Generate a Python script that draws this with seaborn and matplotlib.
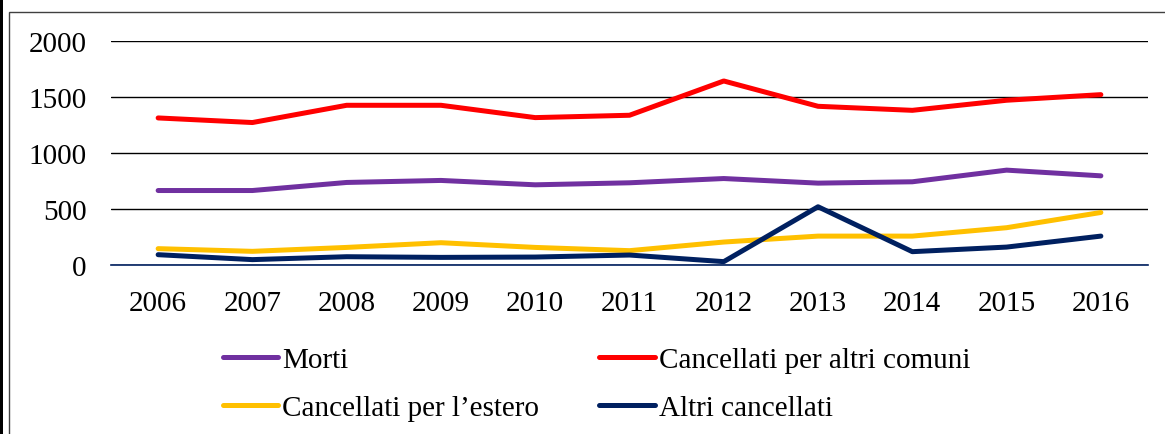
import matplotlib
matplotlib.use("Agg")
import matplotlib.pyplot as plt
import seaborn as sns
import pandas as pd
from matplotlib.patches import Rectangle
from matplotlib.lines import Line2D

years = ["2006", "2007", "2008", "2009", "2010", "2011", "2012", "2013", "2014", "2015", "2016"]
morti = [665, 665, 737, 755, 716, 734, 772, 731, 743, 847, 796]
canc_comuni = [1313, 1272, 1426, 1426, 1316, 1337, 1643, 1417, 1381, 1471, 1521]
canc_estero = [146, 122, 157, 199, 157, 128, 205, 258, 258, 333, 469]
altri_canc = [92, 48, 74, 68, 71, 89, 30, 520, 119, 160, 258]

series_names = ["Morti", "Cancellati per altri comuni", "Cancellati per l\u2019estero", "Altri cancellati"]
series_values = [morti, canc_comuni, canc_estero, altri_canc]
colors = ["#7030A0", "#FF0000", "#FFC000", "#002060"]

rows = []
for name, vals in zip(series_names, series_values):
    for y, v in zip(years, vals):
        rows.append({"Anno": y, "Valore": v, "Serie": name})
df = pd.DataFrame(rows)

sns.set_theme(style="white")
plt.rcParams["font.family"] = ["Liberation Serif", "DejaVu Serif"]
plt.rcParams["text.color"] = "black"

fig = plt.figure(figsize=(11.65, 4.35), dpi=100)
W, H = 1165, 435
ax = fig.add_axes([111 / W, 1 - 266 / H, (1148 - 111) / W, (266 - 42) / H])

sns.lineplot(data=df, x="Anno", y="Valore", hue="Serie", hue_order=series_names,
             palette=colors, linewidth=3.6, ax=ax, sort=False, legend=False,
             solid_capstyle="round")

ax.set_xlim(-0.5, len(years) - 0.5)
ax.set_ylim(0, 2000)
ax.set_yticks([0, 500, 1000, 1500, 2000])
ax.set_xlabel("")
ax.set_ylabel("")
ax.grid(axis="y", color="black", linewidth=1.0)
ax.grid(axis="x", visible=False)
ax.set_axisbelow(True)
for s in ["top", "right", "left"]:
    ax.spines[s].set_visible(False)
ax.spines["bottom"].set_color("#002060")
ax.spines["bottom"].set_linewidth(1.2)
ax.tick_params(axis="both", length=0, labelsize=21, colors="black")
ax.tick_params(axis="y", pad=17.5)
ax.tick_params(axis="x", pad=18)

# legend filled column-wise: col 1 = Morti, estero; col 2 = comuni, altri
order = [0, 2, 1, 3]
handles = [Line2D([0], [0], color=colors[i], linewidth=3.6, solid_capstyle="round") for i in order]
labels = [series_names[i] for i in order]
leg = fig.legend(handles, labels, ncol=2, loc="upper left",
                 bbox_to_anchor=(223 / W, 1 - 348 / H), frameon=False,
                 fontsize=21, handlelength=1.9, handletextpad=0.14,
                 columnspacing=2.05, labelspacing=0.72, borderaxespad=0, borderpad=0)
for t in leg.get_texts():
    t.set_color("black")

fig.patches.append(Rectangle((9 / W, -0.05), 1.1, 1 - 12.5 / H + 0.05,
                             transform=fig.transFigure, fill=False,
                             edgecolor="#404040", linewidth=1.0))
fig.patches.append(Rectangle((0, 0), 2.5 / W, 1, transform=fig.transFigure,
                             facecolor="black", edgecolor="none"))

fig.savefig("out.png", dpi=100, facecolor="white")
